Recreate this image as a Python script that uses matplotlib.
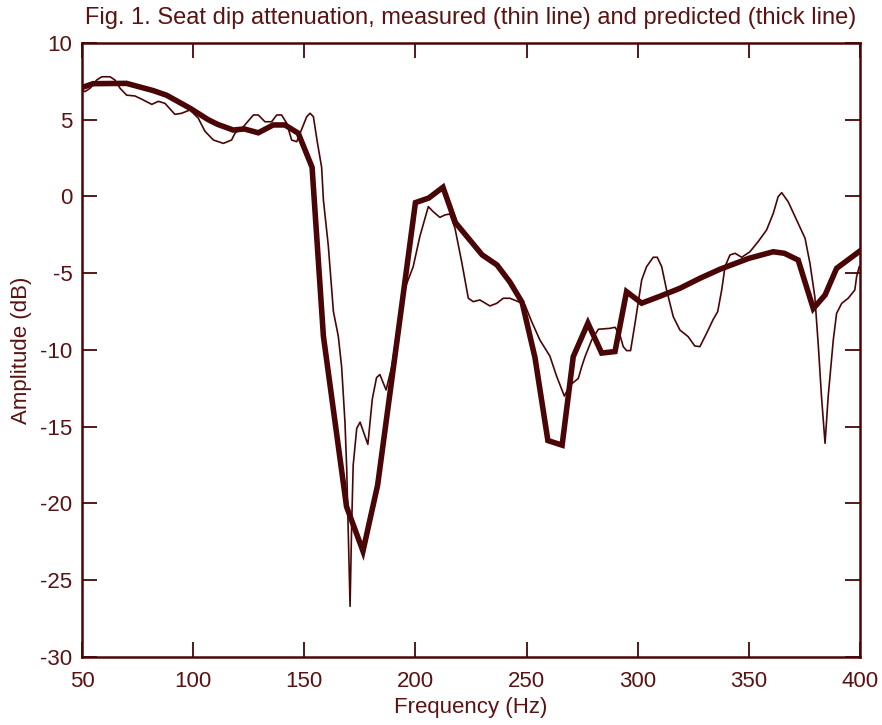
import matplotlib
matplotlib.use("Agg")
import matplotlib.pyplot as plt

# Measured response (thin line): frequency in Hz, amplitude in dB
meas_freq = [50.0, 51.3, 53.6, 56.6, 58.9, 62.6, 64.8, 67.1, 70.1, 73.8, 77.4, 81.4,
             84.3, 87.3, 91.8, 94.8, 98.6, 102.3, 105.3, 109.1, 113.6, 117.3, 118.8,
             122.6, 127.1, 129.3, 132.3, 135.3, 137.6, 139.8, 142.1, 144.3, 146.6,
             148.1, 151.1, 152.6, 154.1, 155.8, 157.8, 158.6, 160.8, 163.1, 165.3,
             166.8, 168.3, 169.1, 170.6, 171.3, 172.0, 173.6, 175.1, 178.6, 180.6,
             182.5, 184.0, 186.8, 189.5, 192.0, 195.5, 199.0, 202.0, 205.8, 208.0,
             211.0, 213.3, 215.5, 217.8, 220.8, 223.8, 226.0, 229.0, 233.5, 236.6,
             239.5, 242.5, 246.3, 249.3, 252.3, 256.0, 260.5, 263.5, 267.0, 269.5,
             273.3, 274.8, 276.3, 279.3, 282.3, 287.5, 289.8, 292.0, 293.5, 295.0,
             296.8, 298.8, 301.8, 304.0, 307.0, 308.8, 310.8, 313.0, 316.0, 319.0,
             322.7, 325.7, 328.0, 331.0, 334.0, 336.0, 337.8, 339.3, 341.5, 343.8,
             346.8, 350.5, 354.2, 358.0, 361.0, 363.2, 364.8, 367.7, 371.5, 375.3,
             377.5, 379.7, 381.3, 382.7, 384.3, 385.7, 388.0, 389.5, 391.8, 394.7,
             397.7, 398.5, 399.7]
meas_db = [6.95, 6.83, 7.05, 7.59, 7.8, 7.8, 7.59, 7.05, 6.6, 6.55, 6.3, 6.0,
           6.2, 6.07, 5.35, 5.42, 5.64, 5.1, 4.25, 3.68, 3.46, 3.68, 4.12,
           4.55, 5.31, 5.31, 4.87, 4.87, 5.31, 5.31, 4.77, 3.68, 3.57,
           4.12, 5.2, 5.42, 5.2, 3.6, 1.9, -0.23, -3.2, -7.5, -9.1,
           -11.1, -14.7, -17.8, -26.7, -21.5, -17.5, -15.1, -14.7, -16.15, -13.2,
           -11.8, -11.6, -12.6, -11.0, -8.5, -5.9, -4.57, -2.6, -0.66, -0.99,
           -1.36, -1.2, -1.14, -2.07, -4.25, -6.63, -6.85, -6.74, -7.13, -6.96,
           -6.63, -6.63, -6.85, -7.07, -8.15, -9.35, -10.4, -11.7, -13.0, -12.3,
           -11.85, -11.09, -10.44, -9.35, -8.65, -8.59, -8.52, -9.02, -9.78, -10.04,
           -10.04, -8.26, -5.44, -4.57, -3.96, -3.96, -4.57, -6.09, -7.83, -8.7,
           -9.13, -9.74, -9.78, -8.91, -8.0, -7.5, -6.09, -4.57, -3.81, -3.7,
           -3.96, -3.6, -2.94, -2.18, -1.1, -0.01, 0.25, -0.34, -1.53, -2.72,
           -4.35, -6.53, -9.78, -13.04, -16.08, -13.04, -9.35, -7.61, -6.96, -6.63,
           -6.09, -5.22, -4.57]

# Predicted response (thick line)
pred_freq = [50.0, 55.0, 70.0, 82.0, 88.0, 98.6, 106.8, 111.0, 118.0, 123.0, 129.3,
             136.0, 141.3, 147.3, 153.5, 158.6, 169.0, 176.4, 183.0, 194.4, 200.0,
             206.0, 212.4, 218.0, 230.0, 236.7, 242.5, 248.0, 253.8, 259.6, 266.0,
             271.0, 277.6, 283.8, 289.8, 295.0, 301.8, 310.0, 319.0, 328.0, 337.0,
             350.0, 361.0, 366.0, 372.2, 379.0, 384.3, 389.5, 400.0]
pred_db = [7.1, 7.35, 7.37, 6.9, 6.6, 5.75, 5.0, 4.7, 4.33, 4.4, 4.15,
           4.66, 4.66, 4.12, 1.9, -9.1, -20.2, -23.1, -18.8, -6.5, -0.4,
           -0.1, 0.6, -1.7, -3.8, -4.46, -5.57, -6.9, -10.5, -15.9, -16.2,
           -10.44, -8.25, -10.2, -10.1, -6.2, -6.95, -6.5, -5.98, -5.33, -4.74,
           -4.03, -3.6, -3.7, -4.14, -7.3, -6.42, -4.68, -3.55]

x_ticks = [50, 100, 150, 200, 250, 300, 350, 400]
y_ticks = [-30, -25, -20, -15, -10, -5, 0, 5, 10]

INK = "#4a0606"
TEXT = "#5a1212"

plt.rcParams["font.family"] = ["Liberation Sans", "DejaVu Sans"]
plt.rcParams["axes.unicode_minus"] = False

fig = plt.figure(figsize=(8.82, 7.25), dpi=100)
ax = fig.add_axes([0.093, 0.0938, 0.882, 0.8469])

ax.plot(meas_freq, meas_db, color=INK, linewidth=1.2, solid_joinstyle="round")
ax.plot(pred_freq, pred_db, color=INK, linewidth=4.0, solid_joinstyle="miter")

ax.set_xlim(50, 400)
ax.set_ylim(-30, 10)
ax.set_xticks(x_ticks)
ax.set_yticks(y_ticks)
ax.tick_params(axis="both", direction="in", length=11, width=1.3, color=INK,
               top=True, right=True, labelsize=16, labelcolor=TEXT)
ax.tick_params(axis="x", pad=10)
ax.tick_params(axis="y", pad=7)
for s in ax.spines.values():
    s.set_color(INK)
    s.set_linewidth(1.8)

ax.set_xlabel("Frequency (Hz)", fontsize=16, color=TEXT, labelpad=4)
ax.set_ylabel("Amplitude (dB)", fontsize=16, color=TEXT, labelpad=6)
ax.set_title("Fig. 1. Seat dip attenuation, measured (thin line) and predicted (thick line)",
             fontsize=17, color=TEXT, pad=14)

fig.savefig("out.png", dpi=100)
